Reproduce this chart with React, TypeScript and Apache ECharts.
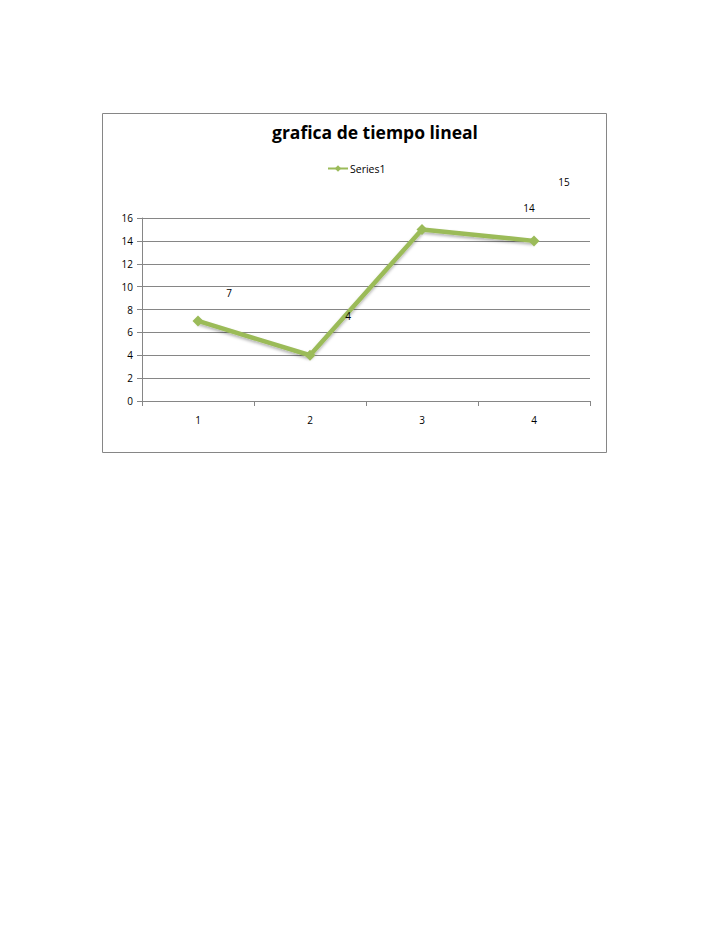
import React, { useEffect, useRef } from "react";
import * as echarts from "echarts";

const categories = ["1", "2", "3", "4"];
const seriesValues = [7, 4, 15, 14];
const seriesName = "Series1";
const titleText = "grafica de tiempo lineal";
const labelOffsets: [number, number][] = [
  [31, -28],
  [38, -39],
  [142, -47],
  [-5, -33],
];

export default function App() {
  const ref = useRef<HTMLDivElement>(null);
  useEffect(() => {
    const chart = echarts.init(ref.current!, null, { renderer: "svg" });
    const green = "#9BBB59";
    chart.setOption({
      animation: false,
      backgroundColor: "#ffffff",
      title: {
        text: titleText,
        left: 370,
        textAlign: "center",
        top: 118,
        textStyle: {
          fontFamily: "Open Sans",
          fontWeight: "bold",
          fontSize: 17.5,
          color: "#000",
        },
      },
      legend: {
        data: [seriesName],
        left: 322,
        top: 158,
        itemWidth: 20,
        itemHeight: 8,
        itemGap: 4,
        textStyle: { fontFamily: "Open Sans", fontSize: 10.5, color: "#000", padding: [0, 0, 0, -3] },
      },
      graphic: [
        {
          type: "rect",
          shape: { x: 102.5, y: 113.5, width: 504, height: 339 },
          style: { fill: "none", stroke: "#868686", lineWidth: 1 },
          silent: true,
        },
      ],
      grid: { left: 142, right: 138, top: 218, bottom: 541 },
      xAxis: {
        type: "category",
        data: categories,
        boundaryGap: true,
        axisLine: { lineStyle: { color: "#868686" } },
        axisTick: { show: true, length: 5, lineStyle: { color: "#868686" } },
        axisLabel: { fontFamily: "Open Sans", fontSize: 10, color: "#000", margin: 14 },
      },
      yAxis: {
        type: "value",
        min: 0,
        max: 16,
        interval: 2,
        axisLine: { show: true, lineStyle: { color: "#868686" } },
        axisTick: { show: true, length: 5, lineStyle: { color: "#868686" } },
        axisLabel: { fontFamily: "Open Sans", fontSize: 10, color: "#000", margin: 9 },
        splitLine: { lineStyle: { color: "#868686" } },
      },
      series: [
        {
          name: seriesName,
          type: "line",
          data: seriesValues.map((v, i) => ({
            value: v,
            label: { offset: labelOffsets[i] },
          })),
          symbol: "diamond",
          symbolSize: 11,
          itemStyle: { color: green },
          lineStyle: {
            color: green,
            width: 4.5,
            shadowColor: "rgba(0,0,0,0.3)",
            shadowBlur: 3,
            shadowOffsetY: 2,
          },
          label: {
            show: true,
            position: "inside",
            fontFamily: "Open Sans",
            fontSize: 10,
            color: "#000",
          },
        },
      ],
    });
    return () => chart.dispose();
  }, []);
  return (
    <div
      ref={ref}
      style={{ position: "absolute", left: 0, top: 0, width: 728, height: 942 }}
    />
  );
}
